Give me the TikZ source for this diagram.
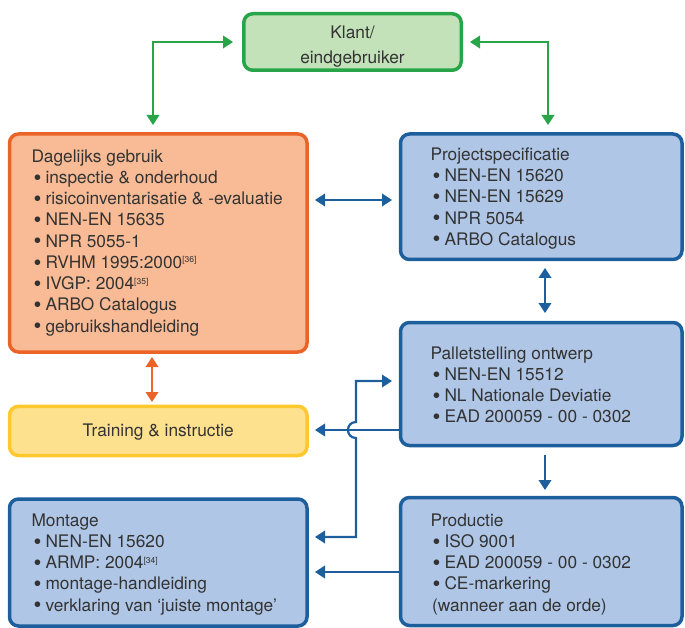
\documentclass[tikz,border=0pt]{standalone}
\usepackage{fontspec}
\setmainfont{TeX Gyre Heros}
\usetikzlibrary{arrows.meta,calc}
\definecolor{obord}{HTML}{EB6427}
\definecolor{ofill}{HTML}{F8BB95}
\definecolor{bbord}{HTML}{1D5E9C}
\definecolor{bfill}{HTML}{AFC6E6}
\definecolor{gbord}{HTML}{27A548}
\definecolor{gfill}{HTML}{C3E2BA}
\definecolor{ybord}{HTML}{FFC82C}
\definecolor{yfill}{HTML}{FDE18E}
\definecolor{txt}{HTML}{333333}
\newcommand{\bul}{\hspace{2pt}\makebox[12pt][l]{\raisebox{-1.6pt}{\scalebox{1.3}{\textbullet}}}}
\newcommand{\sref}[1]{\raisebox{5.5pt}{\fontsize{8.5}{9}\selectfont[#1]}}
\begin{document}
\begin{tikzpicture}[x=1pt,y=1pt,
  >={Triangle[length=10pt,width=12.5pt]},
  box/.style={draw, rounded corners=9pt, line width=3.5pt, inner sep=0pt, outer sep=0pt, anchor=north west},
  obox/.style={box, draw=obord, fill=ofill},
  bbox/.style={box, draw=bbord, fill=bfill},
  gbox/.style={box, draw=gbord, fill=gfill},
  ybox/.style={box, draw=ybord, fill=yfill},
  tx/.style={text=txt, font=\fontsize{17.3}{21.25}\selectfont, inner sep=0pt, outer sep=0pt, anchor=north west, align=left},
  ctx/.style={text=txt, font=\fontsize{17.3}{25}\selectfont, inner sep=0pt, align=center},
  con/.style={line width=2.2pt, line join=miter},
  barr/.style={con, draw=bbord},
  garr/.style={con, draw=gbord},
  oarr/.style={con, draw=obord}
]
\useasboundingbox (0,0) rectangle (685,-628);

% boxes
\node[gbox, minimum width=217.5pt, minimum height=56.5pt] (klant) at (243.75,-13.75) {};
\node[obox, minimum width=297.5pt, minimum height=218pt] (dag) at (9.5,-134) {};
\node[bbox, minimum width=281.5pt, minimum height=125.5pt] (proj) at (400.5,-134) {};
\node[bbox, minimum width=281.5pt, minimum height=123pt] (pal) at (400.5,-322.5) {};
\node[ybox, minimum width=297.5pt, minimum height=49.2pt] (train) at (9.5,-406.3) {};
\node[bbox, minimum width=297.5pt, minimum height=127pt] (mont) at (9.5,-499) {};
\node[bbox, minimum width=281.5pt, minimum height=128pt] (prod) at (400.5,-497.5) {};

% texts
\node[ctx] (klanttxt) at ($(klant.center)+(0,-4.5)$) {Klant/\\eindgebruiker};
\node[tx] (dagtxt) at (31.5,-149.6) {Dagelijks gebruik\\
\bul inspectie \& onderhoud\\
\bul risicoinventarisatie \& -evaluatie\\
\bul NEN-EN 15635\\
\bul NPR 5055-1\\
\bul RVHM 1995:2000\sref{36}\\
\bul IVGP: 2004\sref{35}\\
\bul ARBO Catalogus\\
\bul gebruikshandleiding};
\node[tx] (projtxt) at (430.5,-147.6) {Projectspecificatie\\
\bul NEN-EN 15620\\
\bul NEN-EN 15629\\
\bul NPR 5054\\
\bul ARBO Catalogus};
\node[tx] (paltxt) at (430.5,-346.6) {Palletstelling ontwerp\\
\bul NEN-EN 15512\\
\bul NL Nationale Deviatie\\
\bul EAD 200059 - 00 - 0302};
\node[ctx] (traintxt) at ($(train.center)+(0,-1)$) {Training \& instructie};
\node[tx] (monttxt) at (31.5,-513.6) {Montage\\
\bul NEN-EN 15620\\
\bul ARMP: 2004\sref{34}\\
\bul montage-handleiding\\
\bul verklaring van ‘juiste montage’};
\node[tx] (prodtxt) at (430.5,-513.6) {Productie\\
\bul ISO 9001\\
\bul EAD 200059 - 00 - 0302\\
\bul CE-markering\\
\hspace{1.5pt}(wanneer aan de orde)};

% connectors
\draw[garr, <->]
  ([shift={(143.5,9)}]dag.north west) |- ([xshift=-10.75pt]klant.west |- 0,-42);
\draw[garr, <->]
  ([xshift=8.75pt]klant.east |- 0,-42) -| ([shift={(147.5,9)}]proj.north west);
\draw[barr, <->]
  ([shift={(8,-66)}]dag.north east) -- ([shift={(-8.5,-66)}]proj.north west);
\draw[barr, <->]
  ([shift={(144.5,-8.5)}]proj.south west) -- ([shift={(144.5,9.5)}]pal.north west);
\draw[oarr, <->]
  ([shift={(142.5,-5)}]dag.south west) -- ([shift={(142.5,4.3)}]train.north west);
\draw[barr, ->]
  ([shift={(144.5,-9.5)}]pal.south west) -- ([shift={(144.5,7.5)}]prod.north west);
\draw[barr, ->]
  (pal.west |- 0,-430) -- ([xshift=8pt]train.east |- 0,-430);
\draw[barr, ->]
  (prod.west |- 0,-572) -- ([xshift=8pt]mont.east |- 0,-572);
\coordinate (hopa) at (356,-422);
\coordinate (hopb) at (356,-438);
\draw[barr, <->]
  ([xshift=8pt]mont.east |- 0,-537) -| (hopb)
  .. controls (345.3,-438) and (345.3,-422) .. (hopa)
  |- ([xshift=-8.5pt]pal.west |- 0,-381);
\end{tikzpicture}
\end{document}
